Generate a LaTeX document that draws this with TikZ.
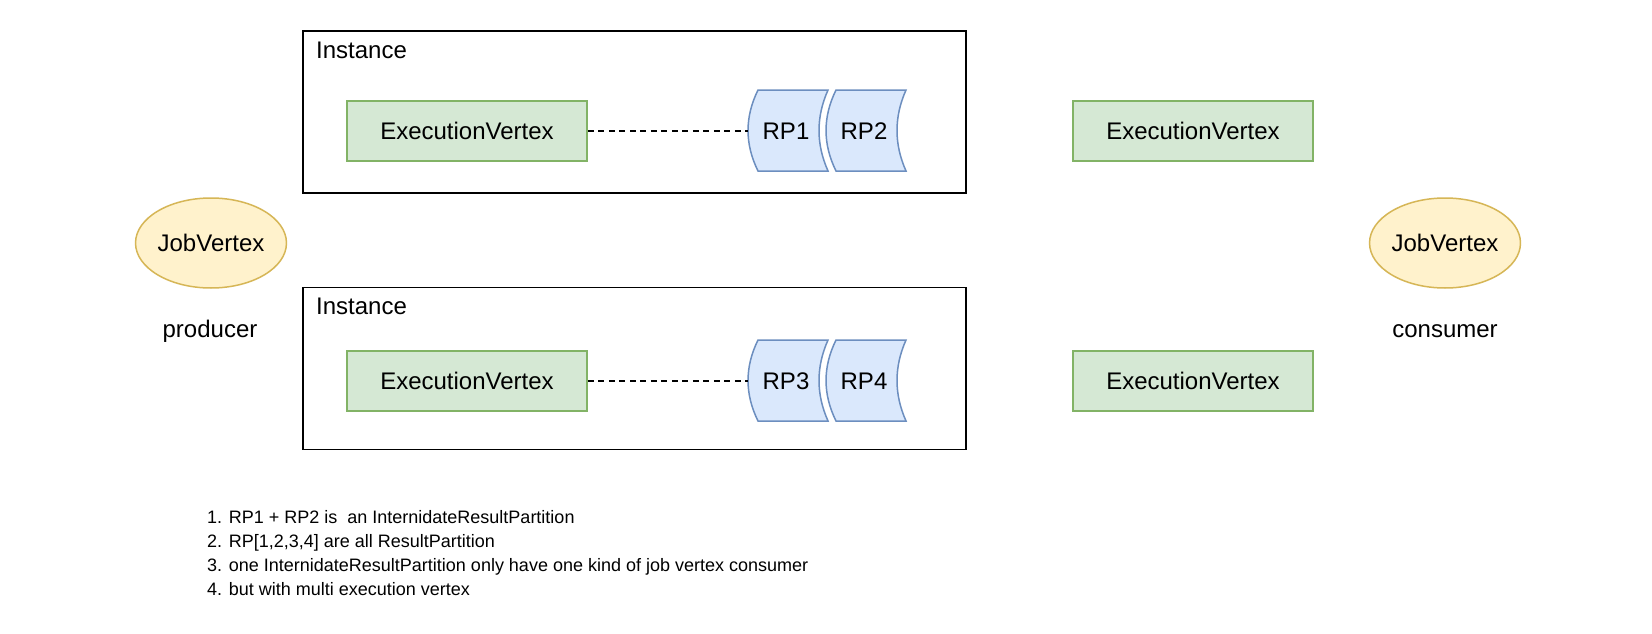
\documentclass[tikz,border=0pt]{standalone}
\usepackage{fontspec}
\setmainfont{Liberation Sans}
\usetikzlibrary{shapes.geometric}
\definecolor{evfill}{HTML}{D5E8D4}
\definecolor{evstroke}{HTML}{82B366}
\definecolor{rpfill}{HTML}{DAE8FC}
\definecolor{rpstroke}{HTML}{6C8EBF}
\definecolor{jvfill}{HTML}{FFF2CC}
\definecolor{jvstroke}{HTML}{D6B656}
\newcommand\rpshape[2]{%
  \draw[rpstyle] (#1,#2) -- ({#1+70},#2)
    .. controls ({#1+70-12},{#2+27}) and ({#1+70-12},{#2+54}) .. ({#1+70},{#2+81})
    -- (#1,{#2+81})
    .. controls ({#1-13.3},{#2+54}) and ({#1-13.3},{#2+27}) .. (#1,#2) -- cycle;}
\begin{document}
\begin{tikzpicture}[x=1pt,y=-1pt,
  mainfont/.style={font=\fontsize{24}{28}\selectfont},
  evbox/.style={draw=evstroke, fill=evfill, line width=1.5pt, minimum width=240pt, minimum height=60pt, inner sep=0pt, mainfont},
  rpstyle/.style={draw=rpstroke, fill=rpfill, line width=1.5pt},
  rptext/.style={inner sep=0pt, mainfont},
  jvstyle/.style={ellipse, draw=jvstroke, fill=jvfill, line width=1.5pt, minimum width=146pt, minimum height=90pt, inner sep=0pt, mainfont},
  instbox/.style={draw=black, line width=1.8pt, minimum width=663pt, minimum height=162pt, inner sep=0pt},
  instlabel/.style={anchor=west, inner sep=0pt, mainfont},
  plain/.style={inner sep=0pt, mainfont},
  link/.style={line width=1.5pt, dash pattern=on 6pt off 4.5pt}
]
\useasboundingbox[fill=white] (0,0) rectangle (1652,634);

% instance boxes
\node[instbox] (inst1) at (634.5,112) {};
\node[instlabel] (inst1lab) at (316,50) {Instance};
\node[instbox] (inst2) at (634.5,368.5) {};
\node[instlabel] (inst2lab) at (316,306) {Instance};

% execution vertices
\node[evbox] (ev1) at (467,131) {ExecutionVertex};
\node[evbox] (ev2) at (467,381) {ExecutionVertex};
\node[evbox] (ev3) at (1193,131) {ExecutionVertex};
\node[evbox] (ev4) at (1193,381) {ExecutionVertex};

% result partitions
\rpshape{758}{90}
\rpshape{836}{90}
\rpshape{758}{340}
\rpshape{836}{340}
\node[rptext] (rp1) at (786,131) {RP1};
\node[rptext] (rp2) at (864,131) {RP2};
\node[rptext] (rp3) at (786,381) {RP3};
\node[rptext] (rp4) at (864,381) {RP4};
\coordinate (rp1w) at (748,131);
\coordinate (rp3w) at (748,381);

\draw[link] (ev1.east) -- (rp1w);
\draw[link] (ev2.east) -- (rp3w);

% job vertices
\node[jvstyle] (jv1) at (211,243) {JobVertex};
\node[jvstyle] (jv2) at (1445,243) {JobVertex};
\node[plain] (prod) at (210,331) {producer};
\node[plain] (cons) at (1445,331) {consumer};

% notes
\node[anchor=north west, align=left, inner sep=0pt, font=\fontsize{18}{24}\selectfont] (notes) at (207,510)
{1. RP1 + RP2 is \ an InternidateResultPartition\\
2. RP[1,2,3,4] are all ResultPartition\\
3. one InternidateResultPartition only have one kind of job vertex consumer\\
4. but with multi execution vertex};
\end{tikzpicture}
\end{document}
